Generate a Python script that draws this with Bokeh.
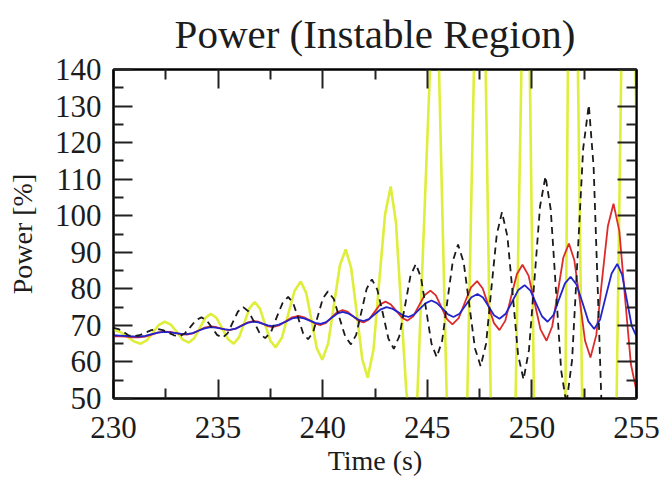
from bokeh.plotting import figure
from bokeh.models import Range1d, LinearAxis, FixedTicker, CustomJSTickFormatter
from bokeh.embed import file_html
from bokeh.resources import INLINE

# ---------------- data ----------------
x_ticks = [230, 235, 240, 245, 250, 255]
x_minor = [232.5, 237.5, 242.5, 247.5, 252.5]
y_ticks = [50, 60, 70, 80, 90, 100, 110, 120, 130, 140]
y_minor = [55, 65, 75, 85, 95, 105, 115, 125, 135]

# yellow series
yel_t = [230.00, 230.33, 230.65, 230.98, 231.30,
         231.59, 231.88, 232.16, 232.45,
         232.74, 233.03, 233.31, 233.60,
         233.86, 234.13, 234.39, 234.65,
         234.93, 235.20, 235.48, 235.75,
         236.00, 236.25, 236.50, 236.75,
         237.00, 237.25, 237.50, 237.75,
         238.05, 238.35, 238.65, 238.95,
         239.21, 239.47, 239.72, 239.98,
         240.26, 240.54, 240.82, 241.10,
         241.36, 241.63, 241.89, 242.15,
         242.43, 242.70, 242.98, 243.25,
         243.50, 243.75, 244.00, 244.25,
         244.52, 245.13, 245.35, 245.56,
         245.93, 246.40, 246.91, 247.23,
         247.50, 247.79, 248.03, 248.60,
         249.22, 249.50, 249.70, 249.90,
         250.10, 250.85, 251.60, 251.72,
         251.95, 252.20, 252.40, 253.20,
         254.05, 254.27, 254.60, 254.95, 255.00]
yel_v = [68.8, 68.2, 66.9, 65.6, 65.0,
         65.9, 68.0, 70.1, 71.0,
         70.2, 68.2, 66.1, 65.3,
         66.5, 69.3, 72.0, 73.2,
         72.0, 69.1, 66.2, 65.0,
         66.7, 70.7, 74.7, 76.4,
         74.6, 70.2, 65.8, 64.0,
         66.6, 73.0, 79.4, 82.0,
         78.9, 71.3, 63.7, 60.6,
         65.0, 75.7, 86.4, 90.8,
         85.7, 73.3, 60.8, 55.7,
         63.4, 81.9, 100.3, 108.0,
         98.3, 75.0, 51.7, 42.0,
         50.0, 140.0, 170.0, 140.0,
         50.0, 32.0, 50.0, 140.0,
         185.0, 140.0, 50.0, 25.0,
         50.0, 140.0, 200.0, 140.0,
         50.0, 15.0, 50.0, 140.0,
         220.0, 140.0, 50.0, 5.0,
         50.0, 140.0, 240.0, 140.0, 125.0]

# red series
red_t = [230.00, 230.30, 230.60, 230.90, 231.20,
         231.51, 231.83, 232.14, 232.45,
         232.71, 232.98, 233.24, 233.50,
         233.79, 234.08, 234.36, 234.65,
         234.88, 235.10, 235.33, 235.55,
         235.84, 236.13, 236.41, 236.70,
         236.93, 237.15, 237.38, 237.60,
         237.91, 238.23, 238.54, 238.85,
         239.11, 239.38, 239.64, 239.90,
         240.16, 240.43, 240.69, 240.95,
         241.20, 241.45, 241.70, 241.95,
         242.21, 242.48, 242.74, 243.00,
         243.26, 243.53, 243.79, 244.05,
         244.33, 244.60, 244.88, 245.15,
         245.41, 245.68, 245.94, 246.20,
         246.50, 246.79, 247.09, 247.38,
         247.65, 247.92, 248.18, 248.45,
         248.73, 249.00, 249.28, 249.55,
         249.84, 250.13, 250.41, 250.70,
         250.97, 251.24, 251.50, 251.77,
         252.03, 252.29, 252.54, 252.80,
         253.08, 253.35, 253.63, 253.90,
         254.18, 254.45, 254.73, 255.00]
red_v = [67.0, 67.0, 66.9, 66.7, 66.7,
         66.9, 67.5, 68.1, 68.3,
         68.2, 67.9, 67.6, 67.5,
         67.8, 68.6, 69.4, 69.7,
         69.6, 69.2, 68.9, 68.7,
         69.1, 70.0, 70.8, 71.2,
         71.0, 70.4, 69.8, 69.5,
         70.0, 71.1, 72.2, 72.6,
         72.2, 71.4, 70.5, 70.1,
         70.7, 72.2, 73.6, 74.2,
         73.7, 72.5, 71.3, 70.8,
         71.6, 73.7, 75.7, 76.5,
         75.7, 73.9, 72.1, 71.3,
         72.5, 75.4, 78.3, 79.5,
         78.2, 74.9, 71.7, 70.3,
         72.0, 76.2, 80.4, 82.1,
         80.1, 75.4, 70.7, 68.7,
         71.3, 77.7, 84.0, 86.6,
         83.6, 76.2, 68.9, 65.8,
         69.7, 79.1, 88.5, 92.4,
         87.8, 76.8, 65.8, 61.2,
         67.4, 82.3, 97.1, 103.3,
         95.8, 77.7, 59.5, 52.0]

# blue series
blue_t = [230.00, 230.30, 230.60, 230.90, 231.20,
          231.51, 231.83, 232.14, 232.45,
          232.71, 232.98, 233.24, 233.50,
          233.79, 234.08, 234.36, 234.65,
          234.88, 235.10, 235.33, 235.55,
          235.84, 236.13, 236.41, 236.70,
          236.93, 237.15, 237.38, 237.60,
          237.91, 238.23, 238.54, 238.85,
          239.11, 239.38, 239.64, 239.90,
          240.16, 240.43, 240.69, 240.95,
          241.20, 241.45, 241.70, 241.95,
          242.23, 242.50, 242.78, 243.05,
          243.31, 243.58, 243.84, 244.10,
          244.38, 244.65, 244.93, 245.20,
          245.46, 245.73, 245.99, 246.25,
          246.54, 246.83, 247.11, 247.40,
          247.66, 247.93, 248.19, 248.45,
          248.75, 249.05, 249.35, 249.65,
          249.93, 250.20, 250.48, 250.75,
          251.03, 251.30, 251.58, 251.85,
          252.13, 252.42, 252.70, 252.98,
          253.26, 253.53, 253.81, 254.08,
          254.31, 254.54, 254.77, 255.00]
blue_v = [67.3, 67.2, 67.1, 67.0, 66.9,
          67.1, 67.6, 68.0, 68.2,
          68.1, 67.9, 67.7, 67.6,
          67.9, 68.6, 69.2, 69.5,
          69.4, 69.2, 68.9, 68.8,
          69.1, 69.9, 70.7, 71.0,
          70.8, 70.4, 70.0, 69.8,
          70.2, 71.0, 71.9, 72.2,
          71.9, 71.3, 70.7, 70.4,
          70.9, 72.1, 73.2, 73.7,
          73.3, 72.5, 71.6, 71.2,
          71.8, 73.1, 74.4, 75.0,
          74.6, 73.7, 72.7, 72.3,
          73.0, 74.6, 76.1, 76.8,
          76.1, 74.6, 73.0, 72.3,
          73.2, 75.5, 77.7, 78.6,
          77.6, 75.2, 72.8, 71.8,
          73.2, 76.4, 79.7, 81.0,
          79.5, 76.0, 72.5, 71.0,
          72.8, 77.2, 81.5, 83.3,
          81.2, 76.2, 71.1, 69.0,
          71.6, 77.9, 84.2, 86.8,
          83.9, 76.9, 69.9, 67.0]

# black dashed series
blk_t = [230.00, 230.24, 230.48, 230.71, 230.95,
         231.24, 231.53, 231.81, 232.10,
         232.36, 232.63, 232.89, 233.15,
         233.41, 233.68, 233.94, 234.20,
         234.45, 234.70, 234.95, 235.20,
         235.45, 235.70, 235.95, 236.20,
         236.46, 236.73, 236.99, 237.25,
         237.53, 237.80, 238.08, 238.35,
         238.59, 238.83, 239.06, 239.30,
         239.54, 239.78, 240.01, 240.25,
         240.53, 240.80, 241.08, 241.35,
         241.60, 241.85, 242.10, 242.35,
         242.61, 242.88, 243.14, 243.40,
         243.66, 243.93, 244.19, 244.45,
         244.70, 244.95, 245.20, 245.45,
         245.71, 245.96, 246.22, 246.47,
         246.74, 247.01, 247.28, 247.55,
         247.81, 248.06, 248.32, 248.57,
         248.83, 249.09, 249.34, 249.60,
         249.86, 250.13, 250.39, 250.65,
         250.90, 251.15, 251.40, 251.65,
         251.92, 252.19, 252.45, 252.72,
         252.95, 253.19, 253.42, 253.65,
         253.99, 254.33, 254.66, 255.00]
blk_v = [69.3, 69.0, 68.2, 67.3, 67.0,
         67.3, 68.0, 68.7, 69.0,
         68.7, 68.0, 67.3, 67.0,
         67.8, 69.6, 71.4, 72.2,
         71.4, 69.4, 67.4, 66.6,
         67.8, 70.8, 73.8, 75.0,
         73.8, 70.8, 67.8, 66.5,
         68.2, 72.2, 76.1, 77.8,
         76.1, 72.0, 67.9, 66.2,
         68.1, 72.8, 77.4, 79.3,
         77.2, 72.1, 66.9, 64.8,
         67.4, 73.7, 80.0, 82.6,
         79.8, 73.1, 66.4, 63.6,
         67.0, 75.2, 83.4, 86.8,
         83.1, 74.1, 65.0, 61.3,
         65.8, 76.7, 87.6, 92.1,
         87.2, 75.5, 63.7, 58.8,
         65.0, 79.9, 94.8, 101.0,
         94.3, 78.1, 61.9, 55.2,
         63.3, 83.0, 102.6, 110.8,
         101.7, 79.7, 57.6, 48.5,
         60.5, 89.4, 118.3, 130.3,
         113.4, 72.7, 31.9, 15.0,
         19.4, 30.0, 40.6, 45.0]

# ---------------- figure ----------------
FONT = "Liberation Serif"
TXT = "#1c1c1c"

p = figure(width=666, height=482, output_backend="svg", toolbar_location=None,
           x_range=Range1d(230, 255), y_range=Range1d(50, 140),
           title="Power (Instable Region)",
           min_border_left=113, min_border_right=30,
           min_border_top=69, min_border_bottom=84,
           x_axis_label="Time (s)", y_axis_label="Power [%]")

p.background_fill_color = "white"
p.border_fill_color = "white"
p.outline_line_color = "black"
p.outline_line_width = 2
p.grid.visible = False

p.title.text_font = FONT
p.title.text_font_size = "41px"
p.title.text_font_style = "normal"
p.title.text_color = TXT
p.title.align = "center"
p.title.vertical_align = "top"
p.title.standoff = 21

xt = FixedTicker(ticks=x_ticks, minor_ticks=x_minor)
yt = FixedTicker(ticks=y_ticks, minor_ticks=y_minor)

bottom_ax = p.below[0]
left_ax = p.left[0]
bottom_ax.ticker = xt
left_ax.ticker = yt

top_ax = LinearAxis(ticker=xt, formatter=CustomJSTickFormatter(code="return ''"))
right_ax = LinearAxis(ticker=yt, formatter=CustomJSTickFormatter(code="return ''"))
p.add_layout(top_ax, "above")
p.add_layout(right_ax, "right")

for ax in [bottom_ax, left_ax, top_ax, right_ax]:
    ax.major_tick_in = 19
    ax.major_tick_out = 0
    ax.minor_tick_in = 10
    ax.minor_tick_out = 0
    ax.major_tick_line_width = 2
    ax.minor_tick_line_width = 2
    ax.major_tick_line_color = "#222222"
    ax.minor_tick_line_color = "#222222"
    ax.axis_line_width = 2
    ax.axis_line_color = "black"
    ax.major_label_text_font = FONT
    ax.major_label_text_font_size = "31px"
    ax.major_label_text_color = TXT
    ax.axis_label_text_font = FONT
    ax.axis_label_text_font_size = "28px"
    ax.axis_label_text_font_style = "normal"
    ax.axis_label_text_color = TXT

for ax in [top_ax, right_ax]:
    ax.major_label_text_font_size = "0px"
    ax.major_label_standoff = 0
    ax.axis_label_standoff = 0

bottom_ax.major_label_standoff = 18
bottom_ax.axis_label_standoff = 4
left_ax.major_label_standoff = 12
left_ax.axis_label_standoff = 14

p.line(yel_t, yel_v, line_color="#dfee3a", line_width=2.6)
p.line(red_t, red_v, line_color="#dd2b2b", line_width=1.8)
p.line(blue_t, blue_v, line_color="#2424cc", line_width=1.8)
p.line(blk_t, blk_v, line_color="#1a1a1a", line_width=1.8, line_dash="7 5")

open("out.html", "w").write(file_html(p, INLINE))
